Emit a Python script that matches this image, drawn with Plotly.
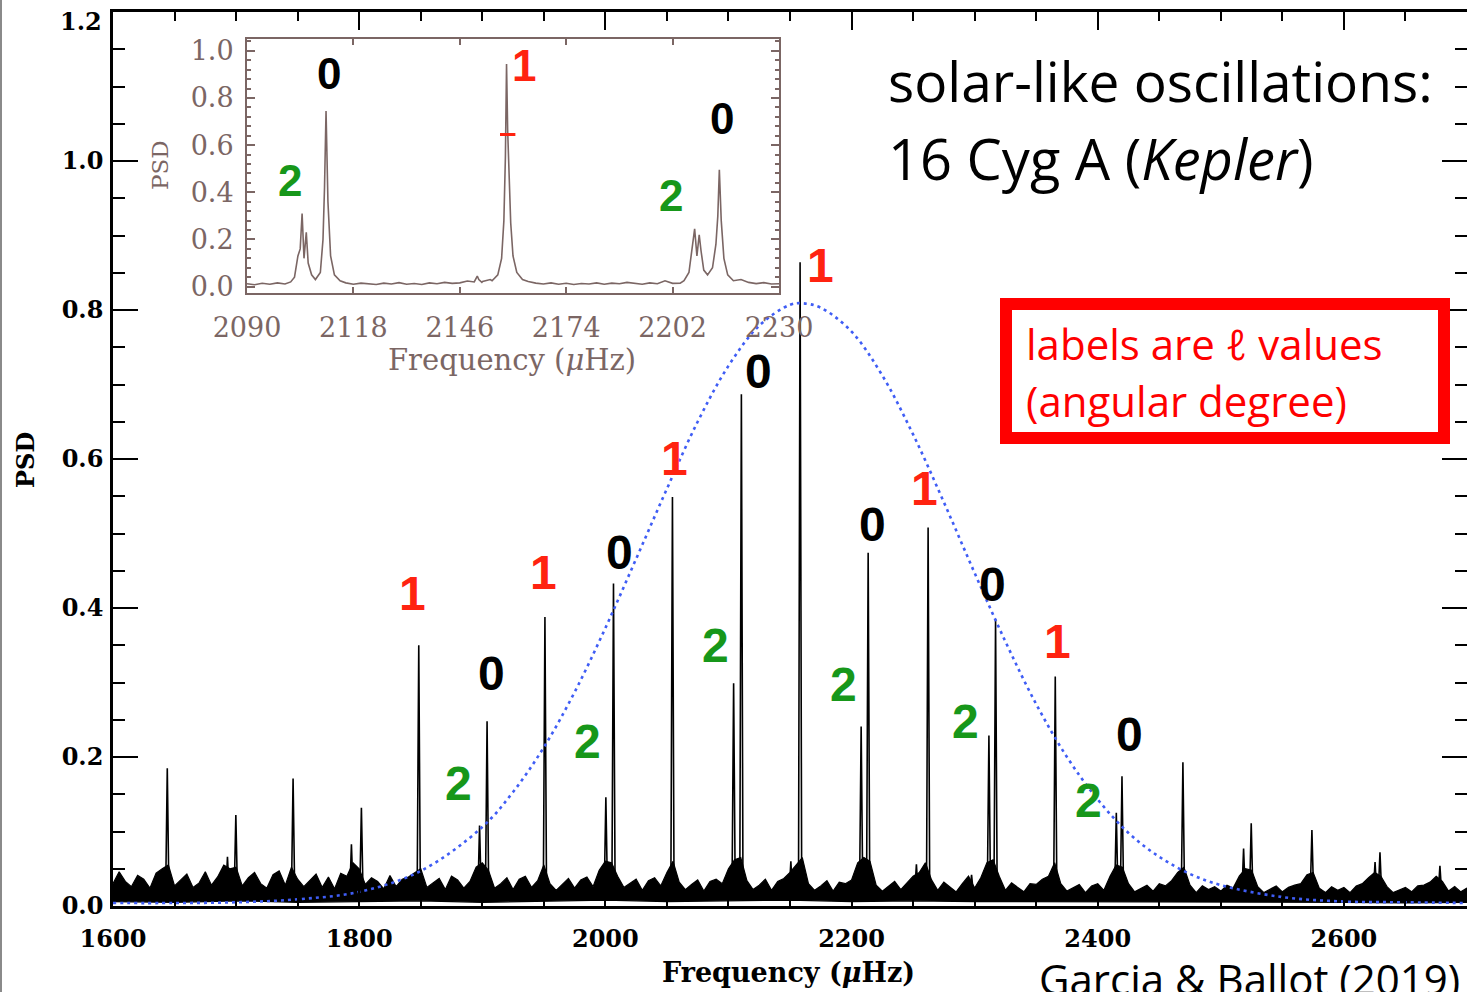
import plotly.graph_objects as go

# ---------------- main spectrum: 16 Cyg A ----------------
# mode frequencies (µHz) and peak PSD, by angular degree
l1_freq = [1644.1, 1746.3, 1848.4, 1950.9, 2054.5, 2158.2, 2262.2, 2365.5, 2469.2, 2574.0, 2678.0]
l1_psd = [0.185, 0.171, 0.350, 0.388, 0.549, 0.864, 0.508, 0.308, 0.193, 0.102, 0.054]
l0_freq = [1699.8, 1801.8, 1903.9, 2006.6, 2110.5, 2213.5, 2317.0, 2419.7, 2524.7, 2629.3]
l0_psd = [0.122, 0.132, 0.248, 0.433, 0.687, 0.474, 0.385, 0.174, 0.111, 0.072]
l2_freq = [1693.0, 1793.7, 1897.8, 2000.4, 2104.2, 2207.8, 2311.6, 2415.1, 2518.5, 2625.3]
l2_psd = [0.066, 0.083, 0.108, 0.146, 0.299, 0.241, 0.229, 0.125, 0.077, 0.059]
l3_freq = [2150.7, 2252.7, 2297.5]
l3_psd = [0.060, 0.056, 0.042]

# background noise: upper edge every 5 µHz from 1600 to 2700, lower edge every 50 µHz
noise_start, noise_step = 1600, 5
noise_top = [
    0.030, 0.046, 0.033, 0.026, 0.041, 0.036, 0.024, 0.044, 0.050, 0.055, 0.027, 0.035, 0.043, 0.025, 0.031, 0.046, 0.028, 0.039, 0.055, 0.050,
    0.052, 0.027, 0.038, 0.045, 0.030, 0.024, 0.042, 0.047, 0.028, 0.052, 0.036, 0.026, 0.034, 0.043, 0.025, 0.039, 0.023, 0.044, 0.040, 0.058,
    0.050, 0.029, 0.038, 0.033, 0.023, 0.041, 0.026, 0.036, 0.039, 0.045, 0.050, 0.025, 0.031, 0.037, 0.022, 0.040, 0.035, 0.024, 0.033, 0.052,
    0.058, 0.048, 0.024, 0.030, 0.038, 0.022, 0.036, 0.040, 0.025, 0.034, 0.055, 0.030, 0.021, 0.029, 0.037, 0.024, 0.035, 0.039, 0.026, 0.048,
    0.060, 0.058, 0.040, 0.025, 0.031, 0.036, 0.021, 0.034, 0.038, 0.027, 0.045, 0.060, 0.032, 0.022, 0.029, 0.035, 0.020, 0.033, 0.036, 0.030,
    0.050, 0.062, 0.065, 0.034, 0.022, 0.028, 0.036, 0.021, 0.033, 0.037, 0.045, 0.055, 0.065, 0.030, 0.021, 0.027, 0.034, 0.020, 0.032, 0.030,
    0.035, 0.058, 0.065, 0.060, 0.028, 0.020, 0.026, 0.033, 0.022, 0.031, 0.040, 0.045, 0.058, 0.035, 0.021, 0.032, 0.026, 0.019, 0.030, 0.040,
    0.024, 0.038, 0.058, 0.062, 0.040, 0.021, 0.031, 0.025, 0.019, 0.030, 0.029, 0.036, 0.040, 0.058, 0.030, 0.020, 0.024, 0.029, 0.018, 0.027,
    0.030, 0.021, 0.040, 0.055, 0.052, 0.030, 0.019, 0.024, 0.028, 0.020, 0.030, 0.027, 0.034, 0.045, 0.052, 0.028, 0.018, 0.027, 0.022, 0.026,
    0.020, 0.028, 0.024, 0.040, 0.050, 0.048, 0.026, 0.018, 0.022, 0.027, 0.019, 0.025, 0.028, 0.030, 0.042, 0.045, 0.024, 0.018, 0.026, 0.021,
    0.025, 0.018, 0.027, 0.030, 0.038, 0.045, 0.040, 0.026, 0.018, 0.022, 0.025, 0.019, 0.027, 0.028, 0.032, 0.040, 0.033, 0.020, 0.026, 0.019,
    0.024,
]
floor_step = 50
noise_floor = [0.006, 0.005, 0.007, 0.005, 0.006, 0.007, 0.005, 0.006, 0.008, 0.006, 0.007, 0.008,
               0.006, 0.007, 0.006, 0.005, 0.006, 0.005, 0.006, 0.005, 0.005, 0.004, 0.005]

# mean-power envelope (dotted curve)
env_freq = [1600, 1650, 1700, 1750, 1800, 1850, 1900, 1925, 1950, 1975, 2000, 2025, 2050, 2075, 2100, 2125,
            2150, 2160, 2175, 2200, 2225, 2250, 2275, 2300, 2325, 2350, 2375, 2400, 2425, 2450, 2475, 2500,
            2550, 2600, 2650, 2700]
env_psd = [0.004, 0.004, 0.005, 0.009, 0.019, 0.047, 0.106, 0.153, 0.213, 0.287, 0.373, 0.466, 0.560, 0.650, 0.725, 0.779,
           0.807, 0.809, 0.803, 0.771, 0.712, 0.633, 0.542, 0.447, 0.355, 0.271, 0.200, 0.143, 0.098, 0.066, 0.043, 0.028,
           0.012, 0.006, 0.005, 0.004]

# degree labels (position in data units)
lab0_freq = [1907.3, 2011.4, 2124.1, 2216.8, 2314.2, 2426.0]
lab0_psd = [0.312, 0.474, 0.718, 0.512, 0.432, 0.230]
lab1_freq = [1843.7, 1949.9, 2056.0, 2174.4, 2259.4, 2367.5]
lab1_psd = [0.420, 0.447, 0.601, 0.860, 0.561, 0.355]
lab2_freq = [1880.7, 1985.6, 2089.8, 2193.4, 2292.7, 2392.7]
lab2_psd = [0.165, 0.221, 0.350, 0.297, 0.247, 0.141]

# y tick values of the main panel
main_yticks = [0.0, 0.2, 0.4, 0.6, 0.8, 1.0]
main_ytop = 1.2

# ---------------- inset: zoom on 2090-2230 µHz ----------------
inset_start, inset_step = 2090, 2
inset_floor = [
    0.012, 0.008, 0.014, 0.010, 0.016, 0.011, 0.018, 0.020, 0.020, 0.020,
    0.020, 0.020, 0.030, 0.016, 0.010, 0.015, 0.012, 0.009, 0.015, 0.011,
    0.017, 0.010, 0.013, 0.009, 0.016, 0.012, 0.018, 0.014, 0.016, 0.024,
    0.040, 0.022, 0.030, 0.050, 0.090, 0.050, 0.040, 0.022, 0.015, 0.011,
    0.016, 0.010, 0.014, 0.009, 0.013, 0.011, 0.016, 0.010, 0.015, 0.012,
    0.018, 0.013, 0.010, 0.016, 0.012, 0.025, 0.014, 0.015, 0.030, 0.050,
    0.050, 0.050, 0.060, 0.060, 0.050, 0.030, 0.018, 0.013, 0.017, 0.011,
    0.012,
]
# resolved profiles of the modes
inset_g1_freq = [2101.5, 2102.5, 2103.4, 2104.0, 2104.5, 2105.0, 2105.6, 2106.1, 2107.0, 2108.0,
                 2109.3, 2110.0, 2110.4, 2110.8, 2111.3, 2112.0, 2113.0, 2114.5]
inset_g1_psd = [0.020, 0.040, 0.130, 0.160, 0.310, 0.120, 0.230, 0.100, 0.050, 0.030,
                0.060, 0.200, 0.420, 0.745, 0.360, 0.130, 0.050, 0.025]
inset_g2_freq = [2149.8, 2150.6, 2151.0, 2151.8]
inset_g2_psd = [0.020, 0.045, 0.030, 0.018]
inset_g3_freq = [2154.5, 2156.0, 2157.0, 2157.6, 2158.0, 2158.3, 2158.6, 2158.9, 2159.4, 2160.0, 2161.0, 2162.5]
inset_g3_psd = [0.025, 0.050, 0.120, 0.280, 0.550, 0.944, 0.660, 0.520, 0.270, 0.130, 0.060, 0.030]
inset_g4_freq = [2205.0, 2206.3, 2207.2, 2207.8, 2208.4, 2209.0, 2209.5, 2210.2, 2211.2, 2212.5,
                 2213.4, 2213.9, 2214.3, 2214.8, 2215.5, 2216.5, 2218.0]
inset_g4_psd = [0.025, 0.060, 0.160, 0.245, 0.130, 0.220, 0.150, 0.070, 0.050, 0.080,
                0.180, 0.300, 0.495, 0.280, 0.120, 0.050, 0.025]
inset_mark_freq = [2158.6]
inset_mark_psd = [0.645]

inset_lab_text = ["0", "1", "0", "2", "2"]
inset_lab_freq = [2111.7, 2162.9, 2214.9, 2101.3, 2201.6]
inset_lab_psd = [0.902, 0.937, 0.711, 0.451, 0.387]

# ---------------- styling ----------------
RED = "#ff2310"
GREEN = "#17971a"
BROWN = "#7b6664"
BLUE = "#3f5df5"
AXFONT = "DejaVu Serif"
LABFONT = "Liberation Sans"
TXTFONT = "Open Sans"

W, H = 1467, 992
ML, MR, MT, MB = 113, 0, 12, 86
PW, PH = W - ML - MR, H - MT - MB


def px(x):
    return (x - ML) / PW


def py(y):
    return (H - MB - y) / PH


fig = go.Figure()

# noise band
nf = [noise_start + i * noise_step for i in range(len(noise_top))]
ff = [noise_start + i * floor_step for i in range(len(noise_floor))]
fig.add_trace(go.Scatter(
    x=nf + ff[::-1], y=noise_top + noise_floor[::-1], fill="toself",
    fillcolor="black", line=dict(color="black", width=1.2), mode="lines",
    hoverinfo="skip", showlegend=False))

# mode spikes
SPIKE_BASE, SPIKE_HW = 0.02, 1.3
sx, sy = [], []
for fr, pw in zip(l1_freq + l0_freq + l2_freq + l3_freq, l1_psd + l0_psd + l2_psd + l3_psd):
    sx += [fr - SPIKE_HW, fr, fr + SPIKE_HW, None]
    sy += [SPIKE_BASE, pw, SPIKE_BASE, None]
fig.add_trace(go.Scatter(x=sx, y=sy, mode="lines", line=dict(color="black", width=1.6),
                         hoverinfo="skip", showlegend=False))

# envelope
fig.add_trace(go.Scatter(x=env_freq, y=env_psd, mode="lines",
                         line=dict(color=BLUE, width=2.6, dash="3px,4px", shape="spline"),
                         hoverinfo="skip", showlegend=False))

# inset series: floor outside the resolved profiles, plus the profiles
groups = [(inset_g1_freq, inset_g1_psd), (inset_g2_freq, inset_g2_psd),
          (inset_g3_freq, inset_g3_psd), (inset_g4_freq, inset_g4_psd)]
pts = []
for i, v in enumerate(inset_floor):
    f = inset_start + i * inset_step
    if not any(g[0][0] <= f <= g[0][-1] for g in groups):
        pts.append((f, v))
for gf, gp in groups:
    pts += list(zip(gf, gp))
pts.sort()
fig.add_trace(go.Scatter(x=[p[0] for p in pts], y=[p[1] for p in pts], mode="lines",
                         line=dict(color=BROWN, width=1.6), xaxis="x2", yaxis="y2",
                         hoverinfo="skip", showlegend=False))
fig.add_trace(go.Scatter(x=inset_mark_freq, y=inset_mark_psd, mode="markers",
                         marker=dict(symbol="line-ew", size=11, line=dict(color=RED, width=3)),
                         xaxis="x2", yaxis="y2", hoverinfo="skip", showlegend=False))

annotations = []


def deg_labels(freqs, psds, text, color, size, xref="x", yref="y"):
    for fr, pw in zip(freqs, psds):
        annotations.append(dict(x=fr, y=pw, xref=xref, yref=yref, text=text, showarrow=False,
                                font=dict(family=LABFONT, size=size, color=color, weight="bold"),
                                xanchor="center", yanchor="middle"))


deg_labels(lab0_freq, lab0_psd, "0", "black", 48)
deg_labels(lab1_freq, lab1_psd, "1", RED, 48)
deg_labels(lab2_freq, lab2_psd, "2", GREEN, 48)
inset_colors = {"0": "black", "1": RED, "2": GREEN}
for t, fr, pw in zip(inset_lab_text, inset_lab_freq, inset_lab_psd):
    deg_labels([fr], [pw], t, inset_colors[t], 44, "x2", "y2")

main_tick = dict(family=AXFONT, size=24, color="black", weight="bold")
inset_tick = dict(family=AXFONT, size=27, color=BROWN)

# axis titles, and the top y label nudged inside the page
annotations += [
    dict(x=px(788), y=py(972), xref="paper", yref="paper", text="Frequency (<i>μ</i>Hz)",
         showarrow=False, font=dict(family=AXFONT, size=27, color="black", weight="bold"),
         xanchor="center", yanchor="middle"),
    dict(x=px(25), y=py(460), xref="paper", yref="paper", text="PSD", textangle=-90,
         showarrow=False, font=dict(family=AXFONT, size=24, color="black", weight="bold"),
         xanchor="center", yanchor="middle"),
    dict(x=px(104), y=py(22), xref="paper", yref="paper", text=f"{main_ytop:.1f}",
         showarrow=False, font=main_tick, xanchor="right", yanchor="middle"),
    dict(x=px(512), y=py(360), xref="paper", yref="paper", text="Frequency (<i>μ</i>Hz)",
         showarrow=False, font=dict(family=AXFONT, size=29, color=BROWN),
         xanchor="center", yanchor="middle"),
    dict(x=px(160), y=py(165), xref="paper", yref="paper", text="PSD", textangle=-90,
         showarrow=False, font=dict(family=AXFONT, size=23, color=BROWN),
         xanchor="center", yanchor="middle"),
]

# headline, key box and credit
annotations += [
    dict(x=px(886), y=py(80), xref="paper", yref="paper", text="solar-like oscillations:",
         showarrow=False, font=dict(family=TXTFONT, size=55, color="black"),
         xanchor="left", yanchor="middle"),
    dict(x=px(886), y=py(158), xref="paper", yref="paper", text="16 Cyg A (<i>Kepler</i>)",
         showarrow=False, font=dict(family=TXTFONT, size=56, color="black"),
         xanchor="left", yanchor="middle"),
    dict(x=px(1024), y=py(344), xref="paper", yref="paper", text="labels are ℓ values",
         showarrow=False, font=dict(family=TXTFONT, size=42, color="#ff0000"),
         xanchor="left", yanchor="middle"),
    dict(x=px(1024), y=py(400), xref="paper", yref="paper", text="(angular degree)",
         showarrow=False, font=dict(family=TXTFONT, size=42, color="#ff0000"),
         xanchor="left", yanchor="middle"),
    dict(x=px(1037), y=py(979), xref="paper", yref="paper", text="Garcia &amp; Ballot (2019)",
         showarrow=False, font=dict(family=TXTFONT, size=42, color="black"),
         xanchor="left", yanchor="middle"),
]

shapes = [
    dict(type="rect", xref="paper", yref="paper", x0=px(1006), x1=px(1444), y0=py(438), y1=py(304),
         line=dict(color="#ff0000", width=12), fillcolor="rgba(0,0,0,0)"),
    dict(type="line", xref="paper", yref="paper", x0=px(1), x1=px(1), y0=py(992), y1=py(0),
         line=dict(color="#8a8a8a", width=2)),
]

fig.update_layout(
    width=W, height=H, autosize=False,
    margin=dict(l=ML, r=MR, t=MT, b=MB, pad=0, autoexpand=False),
    paper_bgcolor="white", plot_bgcolor="white",
    showlegend=False,
    xaxis=dict(range=[1600, 2700], dtick=200, tick0=1600, tickformat="d", automargin=False,
               showgrid=False, zeroline=False, showline=True, linecolor="black", linewidth=2.5,
               mirror="allticks", ticks="inside", ticklen=18, tickwidth=2, tickcolor="black",
               minor=dict(dtick=50, ticks="inside", ticklen=9, tickwidth=2, tickcolor="black"),
               tickfont=main_tick, ticklabelstandoff=9),
    yaxis=dict(range=[0, main_ytop], tickmode="array", tickvals=main_yticks, tickformat=".1f",
               automargin=False,
               showgrid=False, zeroline=False, showline=True, linecolor="black", linewidth=2.5,
               mirror="allticks", ticks="inside", ticklen=25, tickwidth=2, tickcolor="black",
               minor=dict(dtick=0.05, tick0=0, ticks="inside", ticklen=12, tickwidth=2, tickcolor="black"),
               tickfont=main_tick, ticklabelstandoff=2),
    xaxis2=dict(domain=[px(247), px(779)], anchor="y2", range=[2090, 2230], dtick=28, tick0=2090,
                tickformat="d", showgrid=False, zeroline=False, showline=True, linecolor=BROWN,
                linewidth=2, mirror="allticks", ticks="inside", ticklen=6, tickwidth=2, automargin=False,
                tickcolor=BROWN, tickfont=inset_tick, ticklabelstandoff=10),
    yaxis2=dict(domain=[py(293), py(39)], anchor="x2", range=[-0.027, 1.05], dtick=0.2, tick0=0,
                tickformat=".1f", showgrid=False, zeroline=False, showline=True, linecolor=BROWN,
                linewidth=2, mirror="allticks", ticks="inside", ticklen=8, tickwidth=2, automargin=False,
                tickcolor=BROWN,
                minor=dict(dtick=0.04, ticks="inside", ticklen=4, tickwidth=2, tickcolor=BROWN),
                tickfont=inset_tick, ticklabelstandoff=6),
    annotations=annotations,
    shapes=shapes,
)

fig.write_html("out.html")
